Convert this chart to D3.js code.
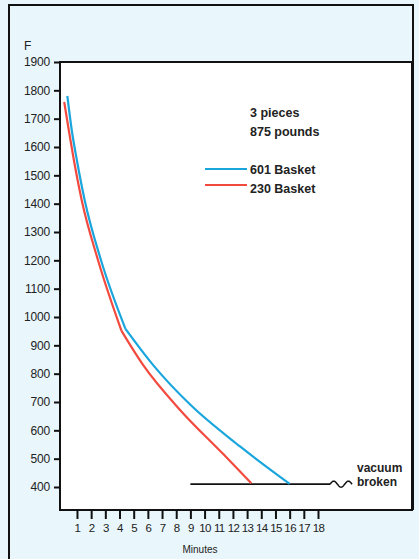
<!DOCTYPE html>
<html><head><meta charset="utf-8">
<script src="https://cdn.jsdelivr.net/npm/d3@7"></script>
<style>html,body{margin:0;padding:0;background:#e9f6fb;}svg{display:block;}</style>
</head><body>
<script>
// ---- data ----
const yTicks = [400,500,600,700,800,900,1000,1100,1200,1300,1400,1500,1600,1700,1800,1900];
const xTicks = [1,2,3,4,5,6,7,8,9,10,11,12,13,14,15,16,17,18];
const seriesNames = ["601 Basket", "230 Basket"];
const seriesColors = ["#1aa6dc", "#f24a3e"];
const blueMinutes = [0.32, 0.63, 0.99, 1.54, 2.69, 4.42, 6.36, 9.0, 12.5, 16.0];
const blueTemps   = [1780, 1660, 1554, 1413, 1201, 958, 831, 690, 543, 411];
const redMinutes  = [0.1, 0.42, 0.78, 1.33, 2.48, 4.14, 5.66, 8.27, 11.3, 13.3];
const redTemps    = [1759, 1660, 1554, 1413, 1201, 951, 831, 672, 517, 413];
const kinkIndex = [5, 5];
const vacuumMinutes = [9.0, 18.85];
const vacuumTemp = 410;
const noteLines = ["3 pieces", "875 pounds"];
const vacuumLabel = ["vacuum", "broken"];

// ---- layout ----
const W = 419, H = 559;
const svg = d3.select("body").append("svg").attr("width", W).attr("height", H);
svg.append("rect").attr("width", W).attr("height", H).attr("fill", "#e9f6fb");

const plotL = 60, plotR = 412, plotT = 62, plotB = 510;
const x = d3.scaleLinear().domain([0, 18]).range([62.8, 318]);
const y = d3.scaleLinear().domain([400, 1900]).range([487, 62]);

// outer frame
svg.append("path").attr("d", `M9,${H} V5 H413 V${plotB}`)
  .attr("fill", "none").attr("stroke", "#111").attr("stroke-width", 2);
// plot area
svg.append("rect").attr("x", plotL).attr("y", plotT).attr("width", plotR - plotL).attr("height", plotB - plotT)
  .attr("fill", "#fff").attr("stroke", "#111").attr("stroke-width", 2);

const font = "'Liberation Sans', Arial, Helvetica, sans-serif";

// y axis
const yAxis = d3.axisLeft(y).tickValues(yTicks).tickSize(6).tickPadding(4).tickFormat(d3.format("d"));
const gy = svg.append("g").attr("transform", `translate(${plotL},0)`).call(yAxis);
gy.select(".domain").remove();
gy.selectAll(".tick line").attr("stroke", "#111").attr("stroke-width", 2);
gy.selectAll(".tick text").attr("font-family", font).attr("font-size", "12px").attr("fill", "#222")
  .attr("letter-spacing", "-0.2px");

svg.append("text").attr("x", 24).attr("y", 50).text("F")
  .attr("font-family", font).attr("font-size", "12px").attr("fill", "#222");

// x axis
const xAxis = d3.axisBottom(x).tickValues(xTicks).tickSize(9).tickPadding(5).tickFormat(d3.format("d"));
const gx = svg.append("g").attr("transform", `translate(0,${plotB})`).call(xAxis);
gx.select(".domain").remove();
gx.selectAll(".tick line").attr("stroke", "#111").attr("stroke-width", 2);
gx.selectAll(".tick text").attr("font-family", font).attr("font-size", "11.5px").attr("fill", "#222")
  .attr("letter-spacing", "-0.6px");

svg.append("text").attr("x", 200).attr("y", 553).attr("text-anchor", "middle").text("Minutes")
  .attr("font-family", font).attr("font-size", "10px").attr("fill", "#222");

// vacuum line
svg.append("line").attr("x1", x(vacuumMinutes[0])).attr("x2", x(vacuumMinutes[1]))
  .attr("y1", y(vacuumTemp)).attr("y2", y(vacuumTemp)).attr("stroke", "#111").attr("stroke-width", 1.6);
// squiggle
const sx0 = x(vacuumMinutes[1]), sy0 = y(vacuumTemp);
const sq = d3.range(0, 61).map(i => [sx0 + i * 22 / 60, sy0 - 3 * Math.sin(i / 60 * 3 * Math.PI)]);
svg.append("path").attr("d", d3.line()(sq)).attr("fill", "none").attr("stroke", "#111").attr("stroke-width", 1.5);
svg.append("g").selectAll("text").data(vacuumLabel).join("text")
  .attr("x", 357).attr("y", (d, i) => 472 + i * 14).text(d => d)
  .attr("font-family", font).attr("font-size", "12px").attr("font-weight", "bold").attr("fill", "#222");

// curves
const line = d3.line().x(d => x(d[0])).y(d => y(d[1])).curve(d3.curveMonotoneX);
const series = [
  d3.zip(blueMinutes, blueTemps),
  d3.zip(redMinutes, redTemps)
];
series.forEach((pts, i) => {
  const k = kinkIndex[i];
  [pts.slice(0, k + 1), pts.slice(k)].forEach(seg => {
    svg.append("path").attr("d", line(seg)).attr("fill", "none")
      .attr("stroke", seriesColors[i]).attr("stroke-width", 2.2);
  });
});

// notes and legend
svg.append("g").selectAll("text").data(noteLines).join("text")
  .attr("x", 250).attr("y", (d, i) => 117 + i * 19).text(d => d)
  .attr("font-family", font).attr("font-size", "12.5px").attr("font-weight", "bold").attr("fill", "#222");
const lg = svg.append("g");
seriesNames.forEach((name, i) => {
  const ly = 169 + i * 16;
  lg.append("line").attr("x1", 205).attr("x2", 247).attr("y1", ly).attr("y2", ly)
    .attr("stroke", seriesColors[i]).attr("stroke-width", 2.2);
  lg.append("text").attr("x", 250).attr("y", 173.5 + i * 19.5).text(name)
    .attr("font-family", font).attr("font-size", "12.5px").attr("font-weight", "bold").attr("fill", "#222");
});
</script>
</body></html>
